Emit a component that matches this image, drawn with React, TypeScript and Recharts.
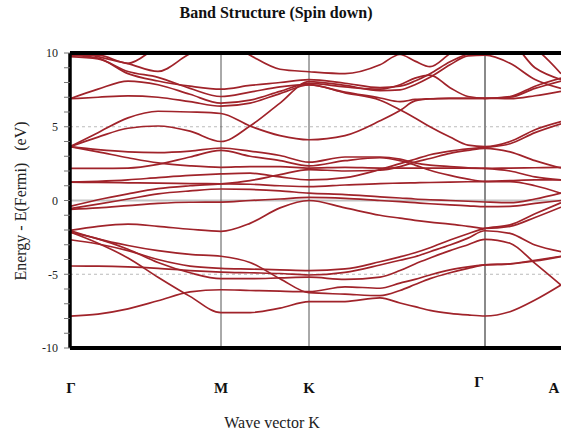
import { LineChart, Line, XAxis, YAxis, ReferenceLine } from 'recharts';

// k-path positions of the sample points (Γ - M - K - Γ - A)
const kPath = [0, 28, 58, 88, 120, 151, 180, 210, 239, 275, 310, 330, 345, 360, 380, 398, 415, 440, 465, 491];
const symPoints = [0, 151, 239, 415, 491];
const symLabels = ['Γ', 'M', 'K', 'Γ', 'A'];
const energyTicks = [-10, -9, -8, -7, -6, -5, -4, -3, -2, -1, 0, 1, 2, 3, 4, 5, 6, 7, 8, 9, 10];

// lower bands (eV)
const b1 = [-7.84, -7.7, -7.35, -6.8, -6.2, -6.05, -6.1, -6.15, -6.18, -5.85, -5.95, -5.6, -5.35, -5.05, -4.7, -4.5, -4.37, -4.3, -4.1, -3.8];
const b2 = [-2.14, -2.9, -3.9, -5.2, -6.5, -7.6, -7.6, -7.3, -6.86, -6.85, -6.6, -6.95, -7.2, -7.45, -7.65, -7.76, -7.83, -7.54, -6.75, -5.73];
const b3 = [-2.03, -2.6, -3.05, -3.4, -3.65, -3.78, -4.2, -5.3, -6.25, -6.35, -6.45, -6.1, -5.7, -5.3, -4.9, -4.6, -4.37, -4.3, -4.05, -3.78];
const b4 = [-2.66, -2.95, -3.4, -4.0, -4.45, -4.6, -4.65, -4.7, -4.75, -4.64, -4.15, -3.82, -3.54, -3.2, -2.68, -2.25, -1.89, -1.65, -0.9, -0.15];
const b5 = [-2.03, -1.75, -1.6, -1.75, -1.95, -2.09, -1.55, -0.5, 0.0, -0.5, -1.0, -1.2, -1.35, -1.47, -1.6, -1.75, -1.89, -1.75, -1.15, -0.45];
const b6 = [-4.44, -4.45, -4.5, -4.6, -4.75, -4.85, -4.9, -4.95, -5.05, -4.87, -4.37, -4.05, -3.81, -3.47, -3.02, -2.55, -2.05, -2.23, -3.02, -3.47];
const b7 = [-2.14, -2.6, -3.3, -4.2, -4.9, -5.3, -5.3, -5.25, -5.2, -5.35, -5.2, -4.75, -4.3, -3.9, -3.4, -3.0, -2.63, -2.9, -4.26, -5.73];

// bands around the Fermi level
const n1 = [-0.4, 0.05, 0.45, 0.8, 1.0, 1.13, 1.35, 1.75, 2.1, 2.0, 2.05, 2.3, 2.6, 2.85, 3.2, 3.4, 3.54, 3.3, 2.7, 2.2];
const n2 = [-0.55, -0.25, 0.1, 0.45, 0.65, 0.78, 0.75, 0.65, 0.5, 0.4, 0.25, 0.17, 0.1, 0.05, 0.0, -0.05, -0.1, -0.15, 0.1, 0.5];
const n3 = [1.24, 1.22, 1.2, 1.18, 1.15, 1.13, 1.1, 1.0, 0.94, 1.05, 1.15, 1.18, 1.2, 1.22, 1.25, 1.27, 1.28, 1.28, 1.0, 0.49];
const n4 = [1.24, 1.3, 1.4, 1.55, 1.7, 1.8, 1.85, 1.6, 1.4, 1.55, 2.1, 2.5, 2.8, 3.1, 3.35, 3.5, 3.6, 3.85, 4.6, 5.2];
const n5 = [2.18, 2.18, 2.2, 2.45, 2.95, 3.4, 3.0, 2.7, 2.35, 2.7, 2.9, 2.7, 2.4, 2.05, 1.7, 1.45, 1.3, 1.35, 1.4, 1.4];
const n6 = [3.65, 3.3, 2.9, 2.55, 2.35, 2.25, 2.3, 2.3, 2.2, 2.25, 2.2, 2.2, 2.2, 2.2, 2.2, 2.19, 2.18, 2.2, 2.22, 2.25];
const n7 = [-0.6, -0.5, -0.35, -0.2, -0.12, -0.11, 0.0, 0.1, 0.21, 0.15, 0.0, -0.08, -0.15, -0.22, -0.3, -0.36, -0.42, -0.4, -0.2, 0.0];

// upper bands
const u1 = [3.65, 3.45, 3.3, 3.25, 3.35, 3.56, 3.35, 3.05, 2.6, 2.95, 2.95, 2.8, 2.55, 2.4, 2.3, 2.22, 2.18, 2.0, 1.6, 1.4];
const u2 = [3.65, 4.3, 4.9, 5.05, 4.7, 4.0, 5.05, 6.6, 8.06, 7.8, 7.45, 7.5, 7.85, 8.35, 9.2, 9.8, 9.85, 9.3, 8.2, 7.6];
const u3 = [3.65, 4.6, 5.6, 6.05, 6.0, 5.9, 5.05, 4.4, 4.12, 4.4, 5.4, 6.1, 6.75, 6.88, 6.92, 6.93, 6.93, 6.9, 7.1, 7.4];
const u4 = [6.9, 7.0, 7.1, 7.0, 6.7, 6.4, 6.6, 7.25, 7.83, 7.35, 6.95, 6.7, 6.85, 6.9, 6.93, 6.93, 6.93, 7.05, 7.75, 8.3];
const u5 = [6.9, 7.55, 8.1, 7.85, 7.2, 6.6, 6.8, 7.4, 7.94, 7.7, 7.55, 7.85, 8.3, 8.5, 7.65, 7.05, 6.93, 7.0, 7.6, 8.1];
const u6 = [9.85, 9.65, 8.6, 8.1, 7.75, 7.55, 7.8, 8.0, 8.2, 7.95, 7.65, 7.75, 8.1, 8.6, 9.4, 9.95, 10.3, 10.6, 9.0, 8.2];
const u7 = [9.85, 9.85, 9.3, 10.4, 11, 11, 9.85, 8.9, 8.73, 8.6, 9.2, 9.9, 9.45, 9.07, 9.95, 10.6, 10.8, 11, 11, 11];
const u8 = [10.3, 9.75, 9.28, 8.75, 9.95, 10.6, 11, 11, 11, 11, 11, 11, 11, 11, 11, 11, 11, 11, 10.3, 8.6];
const u9 = [9.75, 9.6, 8.75, 8.35, 7.6, 7.05, 7.35, 7.7, 7.85, 7.3, 6.8, 6.15, 5.6, 5.0, 4.3, 3.75, 3.65, 4.0, 4.8, 5.35];

const bands = [b1, b2, b3, b4, b5, b6, b7, n1, n2, n3, n4, n5, n6, n7, u1, u2, u3, u4, u5, u6, u7, u8, u9];

const data = kPath.map((k, i) => {
  const row: Record<string, number> = { k };
  bands.forEach((b, j) => { row['b' + j] = b[i]; });
  return row;
});

const serif = '"Liberation Serif", "Times New Roman", serif';
const bandColor = '#a0232a';

function SymTick({ x, y, payload, index }: any) {
  // label offsets as placed in the original figure
  const dx = index === 3 ? -6 : index === 0 ? 1 : index === 4 ? 5 : 0;
  const dy = index === 3 ? 39 : 45;
  return (
    <text x={x + dx} y={y + dy} textAnchor="middle" fontFamily={serif} fontWeight="bold" fontSize={15} fill="#111">
      {symLabels[symPoints.indexOf(payload.value)]}
    </text>
  );
}

export default function App() {
  return (
    <div style={{ position: 'absolute', left: 0, top: 0, width: 561, height: 434, overflow: 'hidden', background: '#fff', fontFamily: serif }}>
      <div style={{ position: 'absolute', top: 4, left: 0, width: 552, textAlign: 'center', fontWeight: 'bold', fontSize: 16, color: '#111' }}>
        Band Structure (Spin down)
      </div>
      <LineChart width={561} height={434} data={data} margin={{ top: 53, right: 0, bottom: 0, left: 0 }}>
        <ReferenceLine y={5} stroke="#bbb" strokeDasharray="3 3" />
        <ReferenceLine y={-5} stroke="#bbb" strokeDasharray="3 3" />
        <ReferenceLine y={0} stroke="#c4c4c4" strokeWidth={2} />
        <ReferenceLine x={151} stroke="#555" strokeWidth={1} />
        <ReferenceLine x={239} stroke="#555" strokeWidth={1} />
        <ReferenceLine x={415} stroke="#8a8a8a" strokeWidth={2} />
        <XAxis
          type="number" dataKey="k" domain={[0, 491]} ticks={symPoints}
          tick={<SymTick />} tickLine={false} tickSize={0} tickMargin={0}
          axisLine={{ stroke: '#000', strokeWidth: 4 }} height={86}
          label={{
            content: () => (
              <text x={272} y={428} textAnchor="middle" fontFamily={serif} fontSize={16} fill="#222">
                Wave vector K
              </text>
            ),
          }}
        />
        <YAxis
          type="number" domain={[-10, 10]} ticks={energyTicks} allowDataOverflow width={70}
          tickFormatter={(v: number) => (v % 5 === 0 ? String(v) : '')}
          tick={{ fontSize: 12, fill: '#222', fontFamily: serif }}
          tickSize={6} tickMargin={6} tickLine={{ stroke: '#777' }}
          axisLine={{ stroke: '#000', strokeWidth: 3.5 }}
          label={{
            content: () => (
              <text x={20} y={201} transform="rotate(-90 20 201)" textAnchor="middle" dominantBaseline="central"
                fontFamily={serif} fontSize={16} fill="#222" style={{ whiteSpace: 'pre' }}>
                {'Energy - E(Fermi)   (eV)'}
              </text>
            ),
          }}
        />
        {bands.map((_, j) => (
          <Line key={j} dataKey={'b' + j} type="monotone" stroke={bandColor} strokeWidth={1.7}
            dot={false} isAnimationActive={false} />
        ))}
        <ReferenceLine y={10} stroke="#000" strokeWidth={4} />
      </LineChart>
    </div>
  );
}
